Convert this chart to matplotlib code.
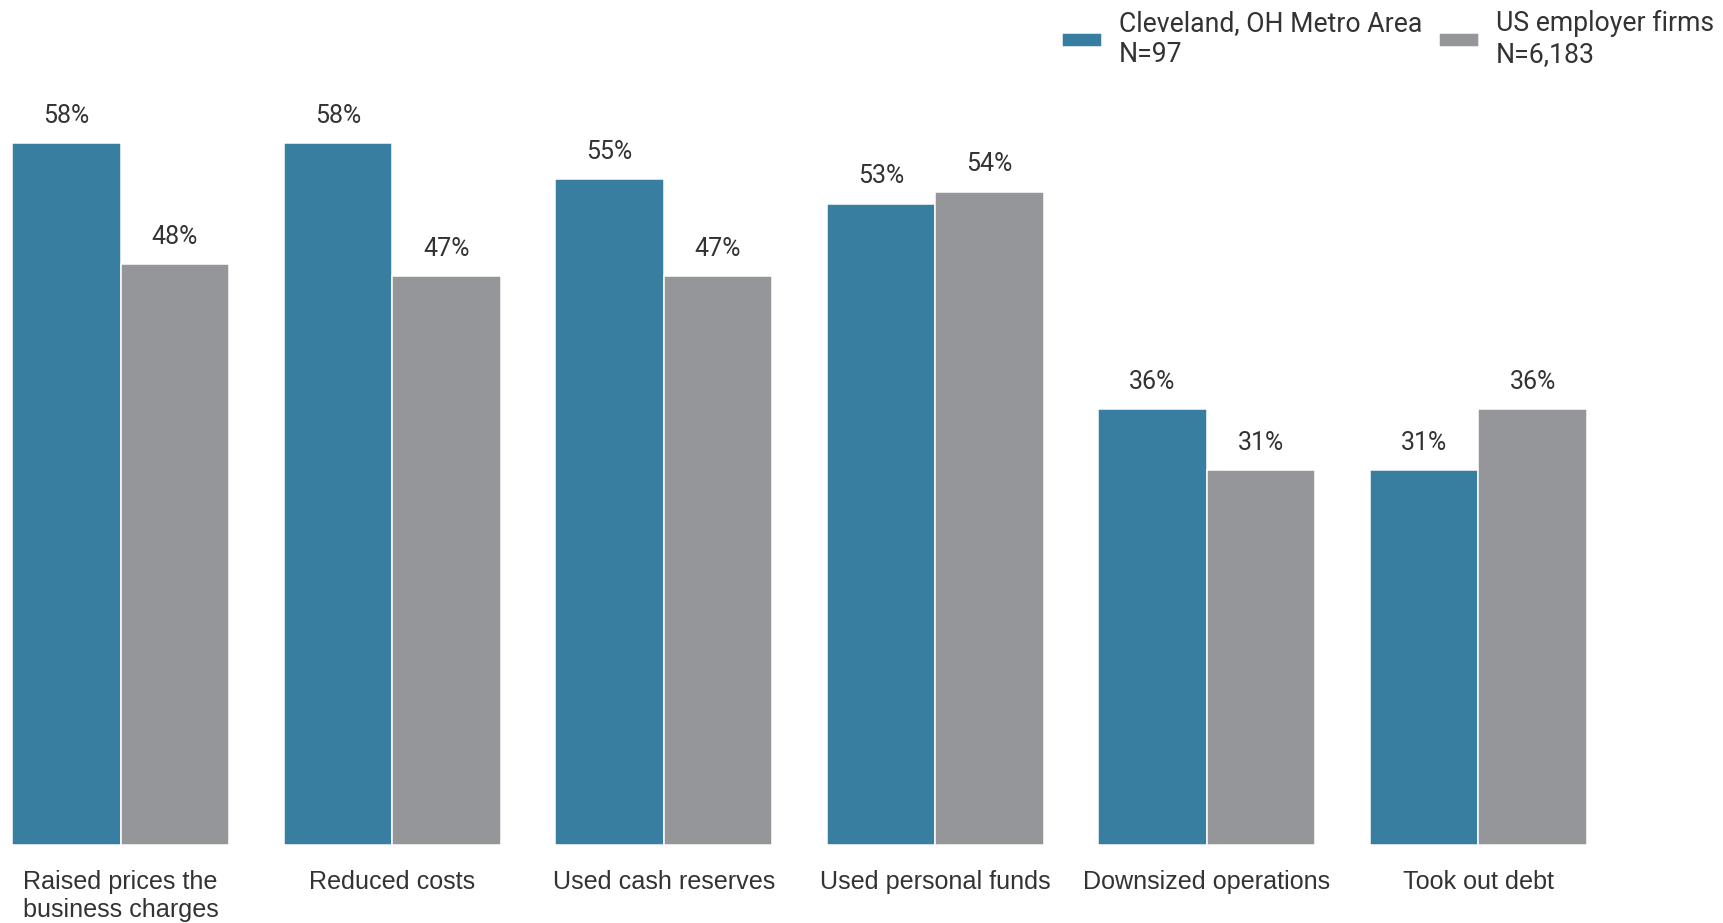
import numpy as np
import matplotlib.pyplot as plt
from matplotlib.patches import Rectangle
from matplotlib.legend_handler import HandlerPatch

categories = ['Raised prices the\nbusiness charges', 'Reduced costs', 'Used cash reserves',
              'Used personal funds', 'Downsized operations', 'Took out debt']
cleveland = [58, 58, 55, 53, 36, 31]
us_firms = [48, 47, 47, 54, 31, 36]
series_names = ['Cleveland, OH Metro Area\nN=97', 'US employer firms\nN=6,183']

blue = '#387ea0'
gray = '#959699'
txt = '#333333'

fig = plt.figure(figsize=(17.24, 9.23), dpi=100)
ax = fig.add_axes([12 / 1724, 1 - 845 / 923, 1575 / 1724, 0.8])

x = np.arange(len(categories))
w = 0.4
b1 = ax.bar(x - w / 2, cleveland, w, color=blue, edgecolor='white', linewidth=1.1,
            label=series_names[0])
b2 = ax.bar(x + w / 2, us_firms, w, color=gray, edgecolor='white', linewidth=1.1,
            label=series_names[1])

for bars, vals in [(b1, cleveland), (b2, us_firms)]:
    ax.bar_label(bars, labels=[f'{v}%' for v in vals], padding=11,
                 fontsize=18, color=txt, family='Roboto')

ax.set_xlim(-0.4, len(categories) - 0.6)
ax.set_ylim(0, 845 / 12.1 * 0.8 * 923 / 845)
ax.set_xticks(x)
ax.set_xticklabels(categories, fontsize=18.1, color=txt, family='Liberation Sans')
ax.tick_params(axis='x', length=0, pad=18)
ax.set_yticks([])
for s in ax.spines.values():
    s.set_visible(False)


# legend swatch sits a little lower than the middle of the two text lines
def low_patch(legend, orig_handle, xdescent, ydescent, width, height, fontsize):
    return Rectangle((-xdescent, -ydescent - 2.5), width, height)


fig.legend(loc='upper right', bbox_to_anchor=(1714 / 1724, 1 - 10 / 923), ncol=2,
           frameon=False, borderpad=0, borderaxespad=0, handlelength=1.5,
           handleheight=0.42, handletextpad=0.62, columnspacing=0.65,
           prop={'family': 'Roboto', 'size': 19.2}, labelcolor=txt,
           handler_map={Rectangle: HandlerPatch(patch_func=low_patch)})

fig.savefig('out.png', dpi=100)
